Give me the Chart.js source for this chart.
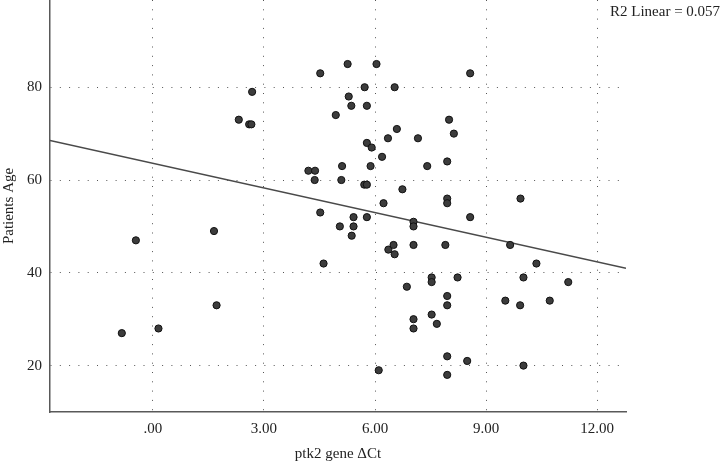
<!DOCTYPE html>
<html>
<head>
<meta charset="utf-8">
<script src="https://cdn.jsdelivr.net/npm/chart.js@4/dist/chart.umd.min.js"></script>
<style>
  html, body { margin: 0; padding: 0; background: #fff; }
  #wrap { width: 727px; height: 463px; }
</style>
</head>
<body>
<div id="wrap"><canvas id="chart" width="727" height="463"></canvas></div>
<script>
  // values (ptk2 ΔCt vs age)
  var deltaCt = [
    -0.84, -0.46, 0.15, 1.65, 1.72, 2.32, 2.60, 2.66, 2.68, 4.20,
    4.38, 4.37, 4.52, 4.52, 4.61, 4.94, 5.05, 5.09, 5.11, 5.26,
    5.29, 5.36, 5.37, 5.42, 5.42, 5.72, 5.78, 5.78, 5.71, 5.78,
    5.78, 5.88, 5.91, 6.04, 6.10, 6.19, 6.23, 6.35, 6.36, 6.50,
    6.53, 6.53, 6.59, 6.74, 6.86, 7.04, 7.04, 7.04, 7.04, 7.04,
    7.16, 7.41, 7.53, 7.53, 7.53, 7.67, 7.90, 7.95, 7.95, 7.95,
    7.95, 7.95, 7.95, 7.95, 8.00, 8.13, 8.23, 8.49, 8.57, 8.57,
    9.52, 9.65, 9.92, 9.93, 10.01, 10.01, 10.36, 10.72, 11.22
  ];
  var ages = [
    27, 47, 28, 49, 33, 73, 72, 72, 79, 62,
    62, 60, 83, 53, 42, 74, 50, 60, 63, 85,
    78, 76, 48, 52, 50, 80, 76, 68, 59, 59,
    52, 63, 67, 85, 19, 65, 55, 69, 45, 46,
    44, 80, 71, 58, 37, 51, 50, 46, 30, 28,
    69, 63, 39, 38, 31, 29, 46, 64, 56, 55,
    35, 33, 22, 18, 73, 70, 39, 21, 83, 52,
    34, 46, 33, 56, 39, 20, 42, 34, 38
  ];

  var xTicks = [0, 3, 6, 9, 12];
  var yTicks = [20, 40, 60, 80];
  var xRange = [-2.78, 12.78];
  var yRange = [10, 98.8];

  // fit line as drawn in the reference
  var fitIntercept = 63.6;
  var fitSlope = -1.77;
  var r2Label = "R2 Linear = 0.057";

  var FONT = "'Liberation Serif', 'DejaVu Serif', serif";
  var TEXT_COLOR = "#222";
  var AXIS_COLOR = "#595959";
  var GRID_COLOR = "#555";

  function fmtX(v) {
    if (v === 0) return ".00";
    return Number(v).toFixed(2);
  }

  var scatterPts = deltaCt.map(function (x, i) { return { x: x, y: ages[i] }; });
  var fitPts = xRange.map(function (x) { return { x: x, y: fitIntercept + fitSlope * x }; });

  var r2Plugin = {
    id: "r2text",
    afterDraw: function (chart) {
      var ctx = chart.ctx;
      ctx.save();
      ctx.font = "15px " + FONT;
      ctx.fillStyle = TEXT_COLOR;
      ctx.textAlign = "left";
      ctx.textBaseline = "middle";
      ctx.fillText(r2Label, 610, 12);
      ctx.restore();
    }
  };

  new Chart(document.getElementById("chart"), {
    type: "scatter",
    data: {
      datasets: [
        {
          type: "line",
          data: fitPts,
          borderColor: "#4a4a4a",
          borderWidth: 1.4,
          pointRadius: 0,
          fill: false,
          order: 2
        },
        {
          data: scatterPts,
          backgroundColor: "#3c3c3c",
          borderColor: "#111",
          borderWidth: 1,
          pointRadius: 3.6,
          order: 1
        }
      ]
    },
    options: {
      responsive: false,
      animation: false,
      events: [],
      layout: { autoPadding: false, padding: { top: 0, right: 101, bottom: 0, left: 0 } },
      plugins: { legend: { display: false }, tooltip: { enabled: false } },
      scales: {
        x: {
          type: "linear",
          min: xRange[0],
          max: xRange[1],
          afterBuildTicks: function (scale) {
            scale.ticks = xTicks.map(function (v) { return { value: v }; });
          },
          afterFit: function (scale) {
            scale.height = 51;
            scale.paddingLeft = 0;
            scale.paddingRight = 0;
          },
          ticks: {
            callback: function (v) { return fmtX(v); },
            color: TEXT_COLOR,
            font: { family: FONT, size: 15 },
            padding: 8,
            maxRotation: 0
          },
          grid: { color: GRID_COLOR, lineWidth: 1, drawTicks: false },
          border: { display: true, color: AXIS_COLOR, width: 1.5, dash: [1, 8.3] },
          title: {
            display: true,
            text: "ptk2 gene ΔCt",
            color: TEXT_COLOR,
            font: { family: FONT, size: 15 },
            padding: { top: 0, bottom: 0 }
          }
        },
        y: {
          type: "linear",
          min: yRange[0],
          max: yRange[1],
          afterBuildTicks: function (scale) {
            scale.ticks = yTicks.map(function (v) { return { value: v }; });
          },
          afterFit: function (scale) {
            scale.width = 50;
            scale.paddingTop = 0;
            scale.paddingBottom = 0;
          },
          ticks: {
            color: TEXT_COLOR,
            font: { family: FONT, size: 15 },
            padding: 8
          },
          grid: { color: GRID_COLOR, lineWidth: 1, drawTicks: false },
          border: { display: true, color: AXIS_COLOR, width: 1.5, dash: [1, 8.3] },
          title: {
            display: true,
            text: "Patients Age",
            color: TEXT_COLOR,
            font: { family: FONT, size: 15 },
            padding: { top: 0, bottom: 0 }
          }
        }
      }
    },
    plugins: [r2Plugin]
  });
</script>
</body>
</html>
